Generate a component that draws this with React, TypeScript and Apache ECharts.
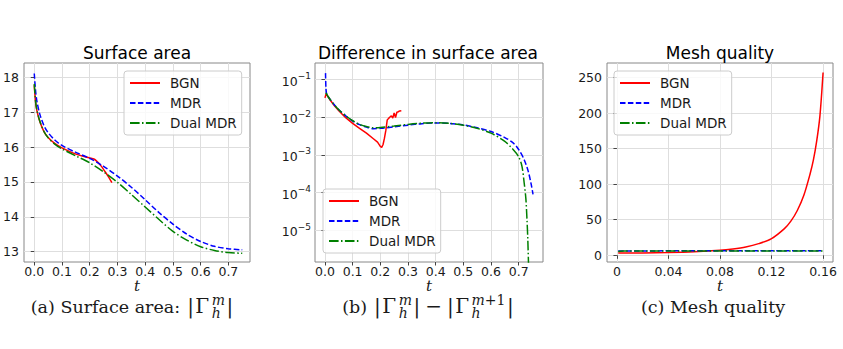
import React, { useEffect, useRef } from "react";
import * as echarts from "echarts";

// ---- (a) surface area |Γ_h^m| over time t ----
const areaBGN: [number, number][] = [
  [0, 17.78], [0.005, 17.28], [0.01, 17.03], [0.02, 16.74], [0.035, 16.45], [0.05, 16.28],
  [0.075, 16.1], [0.1, 15.98], [0.15, 15.8], [0.18, 15.73], [0.2, 15.69], [0.215, 15.66],
  [0.225, 15.6], [0.24, 15.47], [0.255, 15.3], [0.27, 15.12], [0.28, 14.98],
];
const areaMDR: [number, number][] = [
  [0, 18.12], [0.005, 17.6], [0.01, 17.3], [0.02, 16.95], [0.035, 16.62], [0.05, 16.42],
  [0.075, 16.2], [0.1, 16.05], [0.15, 15.85], [0.2, 15.68], [0.25, 15.45], [0.3, 15.17],
  [0.35, 14.85], [0.4, 14.49], [0.45, 14.12], [0.5, 13.79], [0.55, 13.5], [0.6, 13.29],
  [0.65, 13.15], [0.7, 13.08], [0.75, 13.05],
];
const areaDual: [number, number][] = [
  [0, 17.82], [0.005, 17.3], [0.01, 17.05], [0.02, 16.75], [0.035, 16.45], [0.05, 16.27],
  [0.075, 16.08], [0.1, 15.95], [0.15, 15.75], [0.2, 15.55], [0.25, 15.29], [0.3, 14.99],
  [0.35, 14.64], [0.4, 14.28], [0.45, 13.92], [0.5, 13.58], [0.55, 13.33], [0.6, 13.14],
  [0.65, 13.03], [0.7, 12.97], [0.75, 12.95],
];

// ---- (b) |Γ_h^m| - |Γ_h^{m+1}| on a log scale ----
const diffBGN: [number, number][] = [
  [0, 0.033], [0.004, 0.042], [0.01, 0.036], [0.02, 0.028], [0.035, 0.02], [0.05, 0.015],
  [0.075, 0.0098], [0.1, 0.0069], [0.125, 0.0051], [0.15, 0.0038], [0.175, 0.0027],
  [0.19, 0.0022], [0.2, 0.0017], [0.205, 0.0016], [0.21, 0.0019], [0.215, 0.0028],
  [0.22, 0.0045], [0.225, 0.0085], [0.23, 0.0094], [0.235, 0.0102], [0.24, 0.011],
  [0.245, 0.0096], [0.25, 0.013], [0.255, 0.0099], [0.26, 0.0137], [0.265, 0.0141],
  [0.27, 0.0148], [0.276, 0.015],
];
const diffMDR: [number, number][] = [
  [0.002, 0.15], [0.0035, 0.06], [0.006, 0.042], [0.01, 0.037], [0.02, 0.029], [0.035, 0.021],
  [0.05, 0.016], [0.075, 0.011], [0.1, 0.008], [0.125, 0.0064], [0.15, 0.0055], [0.175, 0.005],
  [0.2, 0.0051], [0.25, 0.0056], [0.3, 0.0062], [0.35, 0.0068], [0.4, 0.0071], [0.45, 0.0069],
  [0.5, 0.0063], [0.55, 0.0053], [0.6, 0.0042], [0.65, 0.0029], [0.68, 0.0021], [0.7, 0.0014],
  [0.72, 0.00075], [0.735, 0.00036], [0.745, 0.00017], [0.752, 0.00009],
];
const diffDual: [number, number][] = [
  [0.002, 0.044], [0.005, 0.043], [0.01, 0.037], [0.02, 0.029], [0.035, 0.021], [0.05, 0.016],
  [0.075, 0.011], [0.1, 0.0082], [0.125, 0.0065], [0.15, 0.0057], [0.175, 0.0053], [0.2, 0.0054],
  [0.25, 0.0059], [0.3, 0.0065], [0.35, 0.007], [0.4, 0.0072], [0.45, 0.0069], [0.5, 0.0062],
  [0.55, 0.0051], [0.6, 0.0038], [0.65, 0.0023], [0.68, 0.0014], [0.7, 0.0009], [0.712, 0.0005],
  [0.72, 0.00018], [0.726, 0.00007], [0.73, 0.00002], [0.733, 0.000006], [0.736, 0.000001],
];

// ---- (c) mesh quality ----
const qualBGN: [number, number][] = [
  [0.001, 3.2], [0.02, 3.3], [0.04, 3.8], [0.06, 4.9], [0.08, 7], [0.09, 8.9], [0.1, 11.7],
  [0.11, 16.4], [0.12, 23.5], [0.13, 37.5], [0.135, 48], [0.14, 63], [0.145, 84], [0.15, 115],
  [0.1525, 134], [0.155, 160], [0.1575, 195], [0.16, 257],
];
const qualMDR: [number, number][] = [
  [0.001, 6.0], [0.04, 6.3], [0.08, 6.3], [0.12, 6.3], [0.16, 6.3],
];
const qualDual: [number, number][] = [
  [0.001, 5.5], [0.005, 6.1], [0.04, 6.2], [0.08, 6.2], [0.12, 6.2], [0.16, 6.2],
];

// ---- ticks ----
const areaXTicks = [0, 0.1, 0.2, 0.3, 0.4, 0.5, 0.6, 0.7];
const areaYTicks = [13, 14, 15, 16, 17, 18];
const diffXTicks = [0, 0.1, 0.2, 0.3, 0.4, 0.5, 0.6, 0.7];
const diffYTicks = [1e-5, 1e-4, 1e-3, 1e-2, 1e-1];
const qualXTicks = [0, 0.04, 0.08, 0.12, 0.16];
const qualYTicks = [0, 50, 100, 150, 200, 250];

const seriesNames = ["BGN", "MDR", "Dual MDR"];
const panelTitles = ["Surface area", "Difference in surface area", "Mesh quality"];

const SANS = '"DejaVu Sans", sans-serif';
const SERIF = '"DejaVu Serif", serif';
const TEXT = "#1a1a1a";
const GRIDLINE = "#dedede";

const grids = [
  { left: 24, top: 63, width: 226, height: 199 },
  { left: 315, top: 63, width: 228, height: 199 },
  { left: 607, top: 63, width: 226, height: 199 },
];

function xAxis(gridIndex: number, min: number, max: number, ticks: number[], fmt: (v: number) => string) {
  return {
    type: "value",
    gridIndex,
    min,
    max,
    axisLine: { show: false },
    axisTick: { show: true, length: 3.5, customValues: ticks, lineStyle: { color: "#444" } },
    axisLabel: {
      customValues: ticks,
      formatter: fmt,
      color: TEXT,
      fontSize: 12.5,
      lineHeight: 11,
      fontFamily: SANS,
      margin: 4,
    },
    splitLine: { show: true, lineStyle: { color: GRIDLINE, width: 1 } },
    name: "t",
    nameLocation: "middle",
    nameGap: 19.5,
    nameMoveOverlap: false,
    nameTextStyle: { fontFamily: SERIF, fontStyle: "italic", fontSize: 15, lineHeight: 8, color: TEXT },
  };
}

function yAxis(gridIndex: number, type: string, min: number, max: number, ticks: number[], label: any) {
  return {
    type,
    gridIndex,
    min,
    max,
    axisLine: { show: false },
    axisTick: { show: true, length: 3.5, customValues: ticks, lineStyle: { color: "#444" } },
    axisLabel: { customValues: ticks, color: TEXT, fontSize: 12.5, fontFamily: SANS, margin: 5, ...label },
    splitLine: { show: true, lineStyle: { color: GRIDLINE, width: 1 } },
  };
}

const lineStyles = [
  { color: "#ff0000", width: 1.5, type: "solid" },
  { color: "#0000ff", width: 1.5, type: [5.5, 2.4] },
  { color: "#008000", width: 1.5, type: [9.6, 2.4, 1.5, 2.4] },
];

function lineSeries(idx: number, name: string, data: [number, number][], styleIdx: number, smooth: number | boolean) {
  return {
    type: "line",
    name,
    xAxisIndex: idx,
    yAxisIndex: idx,
    data,
    showSymbol: false,
    symbol: "none",
    smooth,
    clip: true,
    lineStyle: lineStyles[styleIdx],
    itemStyle: { color: lineStyles[styleIdx].color },
    z: 3,
  };
}

function legend(left: number, top: number) {
  return {
    orient: "vertical",
    left,
    top,
    data: seriesNames,
    selectedMode: false,
    itemWidth: 30,
    itemHeight: 14,
    itemGap: 6,
    padding: [5, 5, 5, 5],
    backgroundColor: "rgba(255,255,255,0.8)",
    borderColor: "#cccccc",
    borderWidth: 1,
    borderRadius: 3,
    // legend keys are plain line samples, no marker
    itemStyle: { opacity: 0 },
    textStyle: { fontFamily: SANS, fontSize: 13.5, color: TEXT, padding: [0, 0, 0, 5] },
  };
}

type Part =
  | { text: string; size?: number }
  | { gap: number }
  | { sup: string; sub: string };

const CAP_SIZE = 17.5;
const MATH_SIZE = 20;
const SCRIPT_SIZE = 14;
const SCRIPT_LINE = 13;

const scriptRich = {
  i: { fontFamily: SERIF, fontStyle: "italic", fontSize: SCRIPT_SIZE, lineHeight: SCRIPT_LINE, fill: TEXT, color: TEXT },
  r: { fontFamily: SERIF, fontSize: SCRIPT_SIZE, lineHeight: SCRIPT_LINE, fill: TEXT, color: TEXT },
};

let measureCtx: CanvasRenderingContext2D | null = null;
function measure(text: string, font: string): number {
  if (!measureCtx) measureCtx = document.createElement("canvas").getContext("2d");
  if (!measureCtx) return text.length * 9;
  measureCtx.font = font;
  return measureCtx.measureText(text).width;
}

// Script text uses {i|..} for italic letters and {r|..} for upright symbols.
function scriptWidth(rich: string): number {
  let w = 0;
  rich.replace(/\{(i|r)\|([^}]*)\}/g, (_m, k, s) => {
    w += measure(s, `${k === "i" ? "italic " : ""}${SCRIPT_SIZE}px ${SERIF}`);
    return "";
  });
  return w;
}

// A caption line: roman text with stacked super/subscripts, centred at cx, baseline at y.
function caption(cx: number, baseline: number, parts: Part[]) {
  const widths = parts.map((p) => {
    if ("gap" in p) return p.gap;
    if ("text" in p) return measure(p.text, `${p.size ?? CAP_SIZE}px ${SERIF}`);
    return Math.max(scriptWidth(p.sup), scriptWidth(p.sub));
  });
  const total = widths.reduce((a, b) => a + b, 0);
  let x = cx - total / 2;
  const els: any[] = [];
  parts.forEach((p, i) => {
    if ("text" in p) {
      const size = p.size ?? CAP_SIZE;
      els.push({
        type: "text",
        x,
        y: baseline - 0.35 * size,
        style: { text: p.text, font: `${size}px ${SERIF}`, fill: TEXT, textAlign: "left", textVerticalAlign: "middle" },
      });
    } else if ("sup" in p) {
      // superscript on the first line, subscript on the second, as one stacked block
      const supMid = baseline - 8.5 - 0.35 * SCRIPT_SIZE;
      els.push({
        type: "text",
        x: x + 0.5,
        y: supMid + SCRIPT_LINE / 2,
        style: { text: `${p.sup}\n${p.sub}`, rich: scriptRich, fill: TEXT, textAlign: "left", textVerticalAlign: "middle" },
      });
    }
    x += widths[i];
  });
  return els;
}

const bar: Part = { text: "|", size: MATH_SIZE };
const gamma: Part = { text: "\u0393", size: MATH_SIZE };

export default function App() {
  const ref = useRef<HTMLDivElement>(null);

  useEffect(() => {
    if (!ref.current) return;
    const chart = echarts.init(ref.current, undefined, { renderer: "svg" });

    const logLabel = {
      formatter: (v: number) => {
        const e = Math.round(Math.log10(v));
        return `{b|10}{s|\u2212${-e}}`;
      },
      rich: {
        b: { fontSize: 12.5, fontFamily: SANS, color: TEXT, lineHeight: 16, verticalAlign: "bottom" },
        s: { fontSize: 9, fontFamily: SANS, color: TEXT, lineHeight: 9, verticalAlign: "top" },
      },
    };

    const titleCenters = [137, 428, 720];
    const titles = panelTitles.map((t, i) => ({
      type: "text",
      x: titleCenters[i],
      y: 59 - 0.35 * 17,
      style: { text: t, font: `17px ${SANS}`, fill: "#000", textAlign: "center", textVerticalAlign: "middle" },
    }));

    const captions = [
      ...caption(132, 313, [
        { text: "(a) Surface area:" },
        { gap: 7 },
        bar, { gap: 1.5 }, gamma, { gap: 2 },
        { sup: "{i|m}", sub: "{i|h}" },
        { gap: 2 }, bar,
      ]),
      ...caption(428, 313, [
        { text: "(b)" },
        { gap: 7 },
        bar, { gap: 1.5 }, gamma, { gap: 2 },
        { sup: "{i|m}", sub: "{i|h}" },
        { gap: 2 }, bar,
        { gap: 5 },
        { text: "\u2212", size: MATH_SIZE },
        { gap: 5 },
        bar, { gap: 1.5 }, gamma, { gap: 2 },
        { sup: "{i|m}{r|+1}", sub: "{i|h}" },
        { gap: 2 }, bar,
      ]),
      ...caption(713, 313, [{ text: "(c) Mesh quality" }]),
    ];

    chart.setOption({
      animation: false,
      grid: grids.map((g) => ({ ...g, show: true, borderColor: "#888", borderWidth: 1, backgroundColor: "transparent", containLabel: false })),
      xAxis: [
        xAxis(0, -0.037, 0.778, areaXTicks, (v) => v.toFixed(1)),
        xAxis(1, -0.036, 0.788, diffXTicks, (v) => v.toFixed(1)),
        xAxis(2, -0.0077, 0.1677, qualXTicks, (v) => (v === 0 ? "0" : v.toFixed(2))),
      ],
      yAxis: [
        yAxis(0, "value", 12.7, 18.42, areaYTicks, { formatter: (v: number) => String(Math.round(v)) }),
        yAxis(1, "log", Math.pow(10, -5.845), Math.pow(10, -0.555), diffYTicks, { ...logLabel, margin: 4 }),
        yAxis(2, "value", -9.4, 270.3, qualYTicks, { formatter: (v: number) => String(Math.round(v)) }),
      ],
      legend: [legend(124, 71), legend(323, 189), legend(614, 71)],
      series: [
        lineSeries(0, "BGN", areaBGN, 0, 0.3),
        lineSeries(0, "MDR", areaMDR, 1, 0.3),
        lineSeries(0, "Dual MDR", areaDual, 2, 0.3),
        lineSeries(1, "BGN", diffBGN, 0, false),
        lineSeries(1, "MDR", diffMDR, 1, 0.3),
        lineSeries(1, "Dual MDR", diffDual, 2, 0.3),
        lineSeries(2, "BGN", qualBGN, 0, 0.3),
        lineSeries(2, "MDR", qualMDR, 1, false),
        lineSeries(2, "Dual MDR", qualDual, 2, false),
      ],
      graphic: [...titles, ...captions],
    });

    return () => chart.dispose();
  }, []);

  return (
    <div
      ref={ref}
      style={{ position: "absolute", left: 0, top: 0, width: 843, height: 349, background: "#fff" }}
    />
  );
}
